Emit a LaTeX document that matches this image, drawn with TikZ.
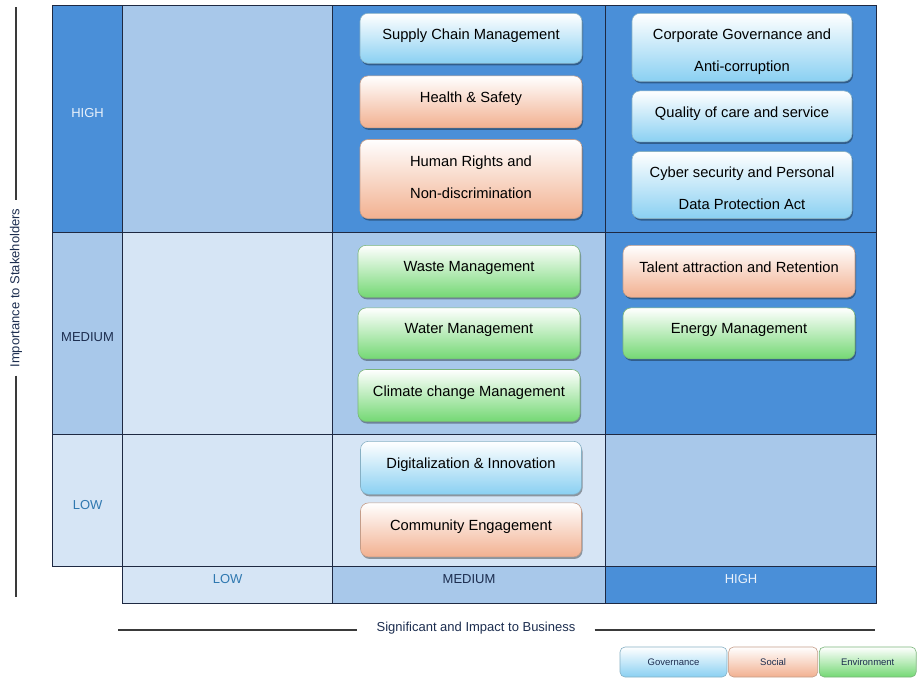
\documentclass[tikz,border=0pt]{standalone}
\usepackage{fontspec}
\setmainfont{Liberation Sans}
\usetikzlibrary{positioning, shadows}

\definecolor{cellDark}{HTML}{4A8FD8}
\definecolor{cellMid}{HTML}{A8C8EA}
\definecolor{cellLight}{HTML}{D6E5F5}
\definecolor{gridLine}{HTML}{1E2942}
\definecolor{axisLine}{HTML}{3A3A3A}
\definecolor{govBlue}{HTML}{8AD0F2}
\definecolor{socOrange}{HTML}{F2B090}
\definecolor{envGreen}{HTML}{74D874}
\definecolor{lowText}{HTML}{2F78B0}
\definecolor{midText}{HTML}{1C2D4F}
\definecolor{highText}{HTML}{EAF2FB}

\tikzset{
    cell/.style={draw=gridLine, line width=1.2pt, anchor=north west, inner sep=0pt,
        font=\fontsize{13}{15}\selectfont},
    raised/.style={text depth=12pt},
    topic/.style={rounded corners=8pt, align=center, text depth=9pt,
        font=\fontsize{14.7}{32}\selectfont, line width=0.6pt,
        drop shadow={shadow xshift=1pt, shadow yshift=-2pt, opacity=0.35, fill=black}},
    twoline/.style={text height=#1, inner ysep=0pt},
    twoline/.default=54pt,
    gov/.style={draw=govBlue!60!gray, top color=white, middle color=govBlue!30!white, bottom color=govBlue},
    soc/.style={draw=socOrange!60!gray, top color=white, middle color=socOrange!30!white, bottom color=socOrange},
    env/.style={draw=envGreen!60!gray, top color=white, middle color=envGreen!30!white, bottom color=envGreen},
    key/.style={rounded corners=5pt, minimum height=30pt, line width=0.6pt,
        font=\fontsize{9.5}{11}\selectfont, text=midText},
    axis/.style={draw=axisLine, line width=1.3pt}
}

\begin{document}
\begin{tikzpicture}[x=1pt, y=-1pt]
    \useasboundingbox (0,0) rectangle (917,678);

    % row labels
    \node[cell, raised, fill=cellDark, text=highText, minimum width=70pt, minimum height=227pt] (rowH) at (52,5) {HIGH};
    \node[cell, text height=15pt, fill=cellMid, text=midText, minimum width=70pt, minimum height=202pt] (rowM) at (52,232) {MEDIUM};
    \node[cell, text height=17pt, fill=cellLight, text=lowText, minimum width=70pt, minimum height=132pt] (rowL) at (52,434) {LOW};

    % matrix cells
    \node[cell, fill=cellMid, minimum width=210pt, minimum height=227pt] (cHL) at (122,5) {};
    \node[cell, fill=cellDark, minimum width=273pt, minimum height=227pt] (cHM) at (332,5) {};
    \node[cell, fill=cellDark, minimum width=271pt, minimum height=227pt] (cHH) at (605,5) {};
    \node[cell, fill=cellLight, minimum width=210pt, minimum height=202pt] (cML) at (122,232) {};
    \node[cell, fill=cellMid, minimum width=273pt, minimum height=202pt] (cMM) at (332,232) {};
    \node[cell, fill=cellDark, minimum width=271pt, minimum height=202pt] (cMH) at (605,232) {};
    \node[cell, fill=cellLight, minimum width=210pt, minimum height=132pt] (cLL) at (122,434) {};
    \node[cell, fill=cellLight, minimum width=273pt, minimum height=132pt] (cLM) at (332,434) {};
    \node[cell, fill=cellMid, minimum width=271pt, minimum height=132pt] (cLH) at (605,434) {};

    % column labels
    \node[cell, raised, fill=cellLight, text=lowText, minimum width=210pt, minimum height=37pt] (colL) at (122,566) {LOW};
    \node[cell, raised, fill=cellMid, text=midText, minimum width=273pt, minimum height=37pt] (colM) at (332,566) {MEDIUM};
    \node[cell, raised, fill=cellDark, text=highText, minimum width=271pt, minimum height=37pt] (colH) at (605,566) {HIGH};

    % topics
    \node[topic, gov, anchor=north, minimum width=222pt, minimum height=50pt] (scm) at (471,13) {Supply Chain Management};
    \node[topic, soc, minimum width=222pt, minimum height=52pt, below=12pt of scm] (hs) {Health \& Safety};
    \node[topic, twoline=48pt, soc, minimum width=222pt, minimum height=79pt, below=11pt of hs] (hr) {Human Rights and\\Non-discrimination};

    \node[topic, twoline=57pt, gov, anchor=north, minimum width=220pt, minimum height=68pt] (cga) at (742,13) {Corporate Governance and\\Anti-corruption};
    \node[topic, gov, minimum width=220pt, minimum height=51pt, below=9pt of cga] (qcs) {Quality of care and service};
    \node[topic, twoline=57pt, gov, minimum width=220pt, minimum height=67pt, below=9pt of qcs] (cyb) {Cyber security and Personal\\Data Protection Act};

    \node[topic, env, anchor=north, minimum width=222pt, minimum height=52pt] (waste) at (469,245) {Waste Management};
    \node[topic, env, minimum width=222pt, minimum height=51pt, below=10pt of waste] (water) {Water Management};
    \node[topic, env, minimum width=222pt, minimum height=52pt, below=10pt of water] (climate) {Climate change Management};

    \node[topic, soc, anchor=north, minimum width=232pt, minimum height=52pt] (talent) at (739,245) {Talent attraction and Retention};
    \node[topic, env, minimum width=232pt, minimum height=51pt, below=10pt of talent] (energy) {Energy Management};

    \node[topic, gov, anchor=north, minimum width=221pt, minimum height=53pt] (digi) at (471,441) {Digitalization \& Innovation};
    \node[topic, soc, minimum width=221pt, minimum height=54pt, below=8pt of digi] (comm) {Community Engagement};

    % axes
    \coordinate (yTop) at (16,7);
    \coordinate (yBot) at (16,597);
    \node[rotate=90, inner sep=8pt, font=\fontsize{13}{15}\selectfont, text=midText] (ylab) at (16,288) {Importance to Stakeholders};
    \draw[axis] (yTop) -- (ylab.east);
    \draw[axis] (ylab.west) -- (yBot);

    \coordinate (xLeft) at (118,630);
    \coordinate (xRight) at (875,630);
    \node[inner xsep=19pt, font=\fontsize{13}{15}\selectfont, text=midText] (xlab) at (476,628) {Significant and Impact to Business};
    \draw[axis] (xLeft) -- (xlab.west |- xLeft);
    \draw[axis] (xlab.east |- xRight) -- (xRight);

    % legend
    \node[key, gov, minimum width=107pt] (kGov) at (673.5,662) {Governance};
    \node[key, soc, minimum width=89pt, right=1pt of kGov] (kSoc) {Social};
    \node[key, env, minimum width=97pt, right=1pt of kSoc] (kEnv) {Environment};
\end{tikzpicture}
\end{document}
